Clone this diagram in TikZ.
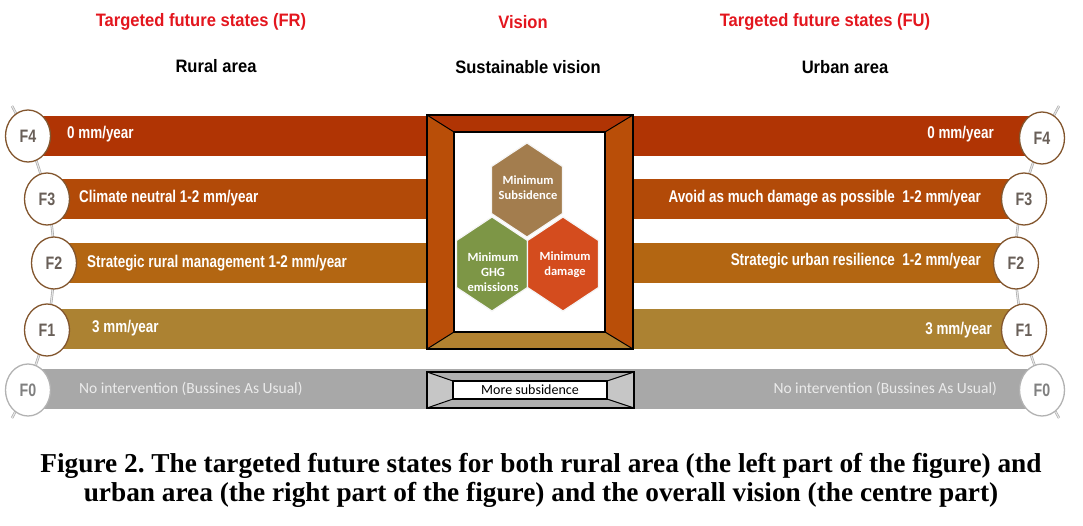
\documentclass[tikz,border=0pt]{standalone}
\usepackage{fontspec}
\setmainfont{Liberation Serif}
\newfontfamily\headfont[FakeStretch=0.92]{Liberation Sans}
\newfontfamily\barfont[FakeStretch=0.79]{Liberation Sans}
\newfontfamily\softfont{Carlito}
\usetikzlibrary{shapes.geometric}
\frenchspacing

\definecolor{bar4}{RGB}{176,52,4}
\definecolor{bar3}{RGB}{178,74,8}
\definecolor{bar2}{RGB}{179,102,18}
\definecolor{bar1}{RGB}{172,130,50}
\definecolor{bar0}{RGB}{168,168,168}
\definecolor{frameside}{RGB}{185,78,8}
\definecolor{framebot}{RGB}{178,130,48}
\definecolor{hexbrown}{RGB}{163,125,78}
\definecolor{hexgreen}{RGB}{125,150,70}
\definecolor{hexorange}{RGB}{212,76,30}
\definecolor{ringbrown}{RGB}{130,85,45}
\definecolor{labelgrey}{RGB}{105,95,88}
\definecolor{headred}{RGB}{227,22,30}

\tikzset{
  stage/.style={ellipse, draw=ringbrown, line width=1.3pt, fill=white,
    minimum width=45pt, minimum height=52pt, inner sep=0pt, text=labelgrey,
    font=\barfont\bfseries\fontsize{18}{18}\selectfont},
  barlabel/.style={text=white, inner sep=0pt, font=\barfont\bfseries\fontsize{17}{17}\selectfont},
  softlabel/.style={text=white!92!black, inner sep=0pt, font=\softfont\fontsize{15.5}{15.5}\selectfont},
  hexlabel/.style={text=white, align=center, inner sep=0pt, font=\softfont\bfseries\fontsize{12.5}{15}\selectfont},
  headline/.style={font=\headfont\bfseries\fontsize{18}{18}\selectfont},
  track/.style={draw=gray!70, double=gray!20, double distance=1.2pt, line width=0.6pt},
  frameline/.style={draw=black, line width=1.8pt},
  hexside/.style={draw=white!92!gray, line width=1.2pt}
}

\newcommand\hexpath[1]{#1 +(0,-47) -- +(35.5,-23.5) -- +(35.5,23.5) -- +(0,47) -- +(-35.5,23.5) -- +(-35.5,-23.5) -- cycle}

\begin{document}
\begin{tikzpicture}[x=1pt, y=-1pt]
\useasboundingbox (0,0) rectangle (1083,525);

% headings
\node[headline, text=headred] (fr) at (201,22) {Targeted future states (FR)};
\node[headline, text=headred] (vision) at (523,22) {Vision};
\node[headline, text=headred] (fu) at (825,22) {Targeted future states (FU)};
\node[headline] (rural) at (216,66) {Rural area};
\node[headline] (sustain) at (528,67) {Sustainable vision};
\node[headline] (urban) at (845,67) {Urban area};

% bars
\fill[bar4] (28,116) rectangle (1042,156);
\fill[bar3] (47,179) rectangle (1024,219);
\fill[bar2] (54,243) rectangle (1016,283);
\fill[bar1] (47,309) rectangle (1024,349);
\fill[bar0] (28,369) rectangle (1042,409);

% tracks behind the stages
\coordinate (ltop) at (12,106);
\coordinate (lbot) at (12,418);
\coordinate (rtop) at (1059,106);
\coordinate (rbot) at (1059,418);
\draw[track] (ltop) .. controls (68,210) and (68,314) .. (lbot);
\draw[track] (rtop) .. controls (1001,210) and (1001,314) .. (rbot);

% stages
\node[stage] (L4) at (28,136) {F4};
\node[stage] (L3) at (47,199) {F3};
\node[stage] (L2) at (54,263) {F2};
\node[stage] (L1) at (47,330) {F1};
\node[stage, draw=gray!60, text=gray] (L0) at (28,390) {F0};
\node[stage] (R4) at (1042,138) {F4};
\node[stage] (R3) at (1024,199) {F3};
\node[stage] (R2) at (1016,263) {F2};
\node[stage] (R1) at (1024,330) {F1};
\node[stage, draw=gray!60, text=gray] (R0) at (1042,390) {F0};

% bar texts
\node[barlabel, anchor=west] at (67,134) {0 mm/year};
\node[barlabel, anchor=west] at (79,198) {Climate neutral 1-2 mm/year};
\node[barlabel, anchor=west] at (87,263) {Strategic rural management 1-2 mm/year};
\node[barlabel, anchor=west] at (92,328) {3 mm/year};
\node[softlabel, anchor=west] at (79,389) {No intervention (Bussines As Usual)};
\node[barlabel, anchor=east] at (994,134) {0 mm/year};
\node[barlabel, anchor=east] at (981,198) {Avoid as much damage as possible\ \ 1-2 mm/year};
\node[barlabel, anchor=east] at (981,261) {Strategic urban resilience\ \ 1-2 mm/year};
\node[barlabel, anchor=east] at (992,330) {3 mm/year};
\node[softlabel, anchor=east] at (997,389) {No intervention (Bussines As Usual)};

% vision frame
\fill[bar4] (427,115) -- (633,115) -- (605,132) -- (454,132) -- cycle;
\fill[frameside] (427,115) -- (454,132) -- (454,332) -- (427,349) -- cycle;
\fill[frameside] (633,115) -- (633,349) -- (605,332) -- (605,132) -- cycle;
\fill[framebot] (427,349) -- (633,349) -- (605,332) -- (454,332) -- cycle;
\draw[line width=1pt] (427,115) -- (454,132) (633,115) -- (605,132)
  (427,349) -- (454,332) (633,349) -- (605,332);
\draw[frameline] (427,115) rectangle (633,349);
\node[frameline, fill=white, minimum width=151pt, minimum height=200pt, inner sep=0pt] (window) at (529.5,232) {};

% hexagons
\filldraw[hexside, fill=hexbrown] \hexpath{(527,190)};
\filldraw[hexside, fill=hexgreen] \hexpath{(492,264)};
\filldraw[hexside, fill=hexorange] \hexpath{(563,264)};
\node[hexlabel] (subs) at (528,188) {Minimum\\Subsidence};
\node[hexlabel] (ghg) at (493,272) {Minimum\\GHG\\emissions};
\node[hexlabel] (damage) at (565,265) {Minimum\\damage};

% more subsidence frame
\fill[gray!62] (427,372) rectangle (634,408);
\fill[gray!45] (427,372) -- (453,381) -- (453,399) -- (427,408) -- cycle;
\fill[gray!45] (634,372) -- (607,381) -- (607,399) -- (634,408) -- cycle;
\draw[line width=1pt] (427,372) -- (453,381) (634,372) -- (607,381)
  (427,408) -- (453,399) (634,408) -- (607,399);
\draw[frameline] (427,372) rectangle (634,408);
\node[frameline, fill=white, minimum width=154pt, minimum height=18pt, inner sep=0pt,
  font=\softfont\fontsize{14}{14}\selectfont] (more) at (530,390) {More subsidence};

% caption
\node[align=center, font=\bfseries\fontsize{27.3}{29}\selectfont] (caption) at (541,480)
  {Figure 2. The targeted future states for both rural area (the left part of the figure) and\\
   urban area (the right part of the figure) and the overall vision (the centre part)};
\end{tikzpicture}
\end{document}
